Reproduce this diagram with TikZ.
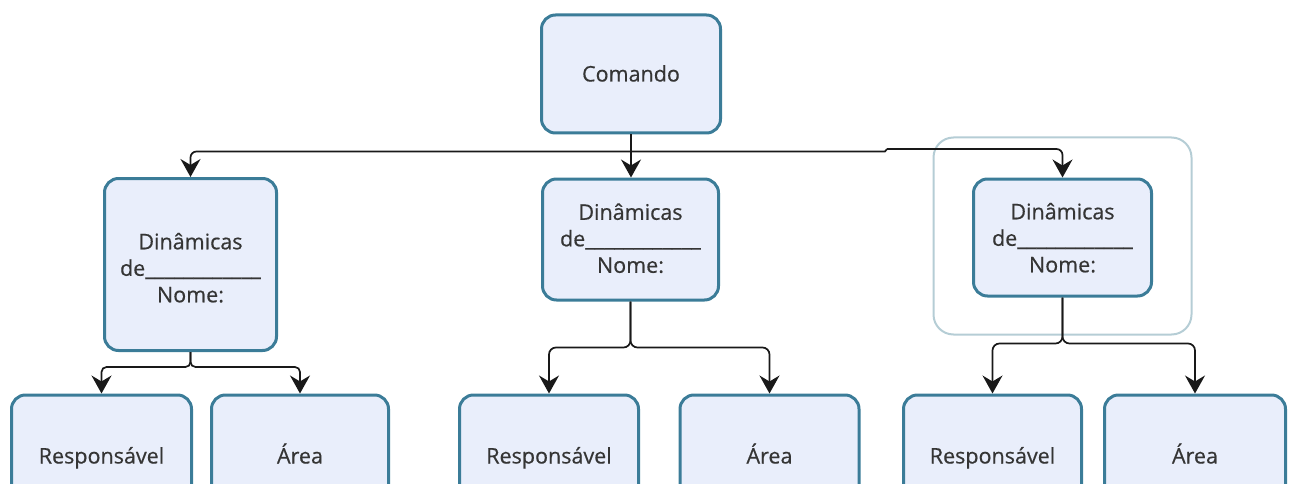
\documentclass[tikz,border=0pt]{standalone}
\usepackage{fontspec}
\setmainfont{Open Sans}[FakeBold=0.5]
\usetikzlibrary{arrows.meta}
\definecolor{boxfill}{HTML}{E9EEFB}
\definecolor{boxline}{HTML}{3B7C98}
\definecolor{framec}{HTML}{B5CDD5}
\definecolor{txtc}{HTML}{353535}
\newcommand\dnmtext[1]{\raisebox{#1}[\height][\depth]{\begin{tabular}{@{}c@{}}Dinâmicas\\de\_\_\_\_\_\_\_\_\_\_\_\_\\Nome:\end{tabular}}}
\tikzset{
  box/.style={draw=boxline, line width=3pt, fill=boxfill, rounded corners=14pt,
    inner sep=0pt, align=center, text=txtc, font=\fontsize{21.5}{26.5}\selectfont},
  oneline/.style={text height=16pt, text depth=1pt},
  framebox/.style={draw=framec, line width=2pt, rounded corners=20pt, inner sep=0pt},
  conn/.style={draw=black!90, line width=1.7pt},
  arr/.style={conn, -{Stealth[length=18pt,width=20pt,inset=6pt]}}
}
\begin{document}
\begin{tikzpicture}[x=1pt,y=-1pt]
\useasboundingbox (0,0) rectangle (1293,484);
\clip (0,0) rectangle (1293,484);
\node[framebox, minimum width=258pt, minimum height=197pt] (fr) at (1062.5,236) {};
\node[box, oneline, minimum width=179pt, minimum height=118pt] (cmd) at (631,74) {Comando};
\node[box, minimum width=172pt, minimum height=172pt] (d1) at (190.5,264.5) {\dnmtext{-6pt}};
\node[box, minimum width=176pt, minimum height=121pt] (d2) at (630.5,239.5) {\dnmtext{-1.5pt}};
\node[box, minimum width=178pt, minimum height=117pt] (d3) at (1062.5,237.5) {\dnmtext{-3pt}};
\node[box, oneline, minimum width=180pt, minimum height=122pt] (r1) at (101.5,456) {Responsável};
\node[box, oneline, minimum width=177pt, minimum height=122pt] (a1) at (300,456) {Área};
\node[box, oneline, minimum width=179pt, minimum height=122pt] (r2) at (549,456) {Responsável};
\node[box, oneline, minimum width=179pt, minimum height=122pt] (a2) at (769.5,456) {Área};
\node[box, oneline, minimum width=178pt, minimum height=122pt] (r3) at (992.5,456) {Responsável};
\node[box, oneline, minimum width=181pt, minimum height=122pt] (a3) at (1195,456) {Área};
% top distribution
\coordinate (j0) at (631,151.5);
\coordinate (jogA) at (885,151.5);
\coordinate (jogB) at (887,149);
\draw[conn] (cmd.south) -- (j0);
\draw[arr, rounded corners=6pt] (j0) -| (d1.north);
\draw[arr] (j0) -- (j0 |- d2.north);
\draw[conn] (j0) -- (jogA) -- (jogB);
\draw[arr, rounded corners=6pt] (jogB) -| (d3.north);
% left group
\path (d1.south) ++(0,15) coordinate (j1);
\draw[arr, rounded corners=5pt] (d1.south) -- (j1) -| (r1.north);
\draw[arr, rounded corners=5pt] (d1.south) -- (j1) -| (a1.north);
% middle group
\path (d2.south) ++(0,46) coordinate (j2);
\draw[arr, rounded corners=7pt] (d2.south) -- (j2) -| (r2.north);
\draw[arr, rounded corners=7pt] (d2.south) -- (j2) -| (a2.north);
% right group
\path (d3.south) ++(0,46) coordinate (j3);
\draw[arr, rounded corners=7pt] (d3.south) -- (j3) -| (r3.north);
\draw[arr, rounded corners=7pt] (d3.south) -- (j3) -| (a3.north);
\end{tikzpicture}
\end{document}
